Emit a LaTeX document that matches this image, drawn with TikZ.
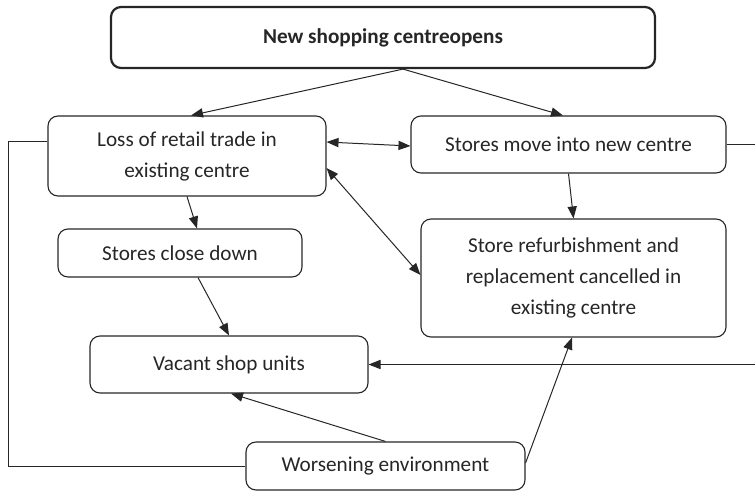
\documentclass[tikz,border=0pt]{standalone}
\usepackage{fontspec}
\setmainfont{Carlito}
\usetikzlibrary{positioning,calc,arrows.meta}

\begin{document}
\begin{tikzpicture}[x=0.5pt, y=-0.5pt,
    box/.style={draw=black!85, line width=0.55pt, rounded corners=5pt, align=center, inner sep=0pt,
        font=\fontsize{10.6}{15.5}\selectfont, text=black!85},
    link/.style={draw=black!85, line width=0.5pt},
    arr/.style={link, -{Triangle[length=6pt,width=4.6pt]}},
    darr/.style={link, {Triangle[length=6pt,width=4.6pt]}-{Triangle[length=6pt,width=4.6pt]}}]
    \clip (0,0) rectangle (755,493);

    % Boxes
    \node[box, line width=1.1pt, minimum width=272pt, minimum height=30.5pt, font=\fontsize{10.6}{15.5}\selectfont\bfseries] (top) at (383,37.5) {New shopping centreopens};
    \node[box, minimum width=139pt, minimum height=40pt] (loss) at (187,156) {Loss of retail trade in\\existing centre};
    \node[box, minimum width=157.5pt, minimum height=28.5pt] (move) at (568.5,144.5) {Stores move into new centre};
    \node[box, minimum width=122pt, minimum height=24pt] (close) at (180,253) {Stores close down};
    \node[box, minimum width=152.5pt, minimum height=59pt] (refurb) at (573.5,278) {Store refurbishment and\\replacement cancelled in\\existing centre};
    \node[box, minimum width=139pt, minimum height=28.5pt] (vacant) at (229,364.5) {Vacant shop units};
    \node[box, minimum width=139.5pt, minimum height=24pt] (worse) at (385.5,466) {Worsening environment};
    \coordinate (lft) at (8,0);
    \coordinate (rgt) at (780,0);

    % Links
    \draw[arr] ([xshift=10pt]top.south) -- ([xshift=2pt]loss.north);
    \draw[arr] ([xshift=10pt]top.south) -- ([xshift=-2.75pt]move.north);
    \draw[darr] ([yshift=7pt]loss.east) -- ([yshift=-0.75pt]move.west);
    \draw[darr] ([yshift=-6pt]loss.east) -- ([yshift=1.5pt]refurb.west);
    \draw[arr] (loss.south) -- ([xshift=8.5pt]close.north);
    \draw[arr] (move.south) -- (refurb.north);
    \draw[arr] ([xshift=9pt]close.south) -- (vacant.north);
    \draw[arr] (worse.north) -- ([xshift=1pt]vacant.south);
    \draw[arr] ([yshift=1.5pt]worse.east) -- ([xshift=-0.75pt]refurb.south);
    \draw[arr] (move.east) -- (move.east -| rgt) |- (vacant.east);
    \draw[link] ([yshift=7.5pt]loss.west) -- ([yshift=7.5pt]loss.west -| lft) |- (worse.west);
\end{tikzpicture}
\end{document}
